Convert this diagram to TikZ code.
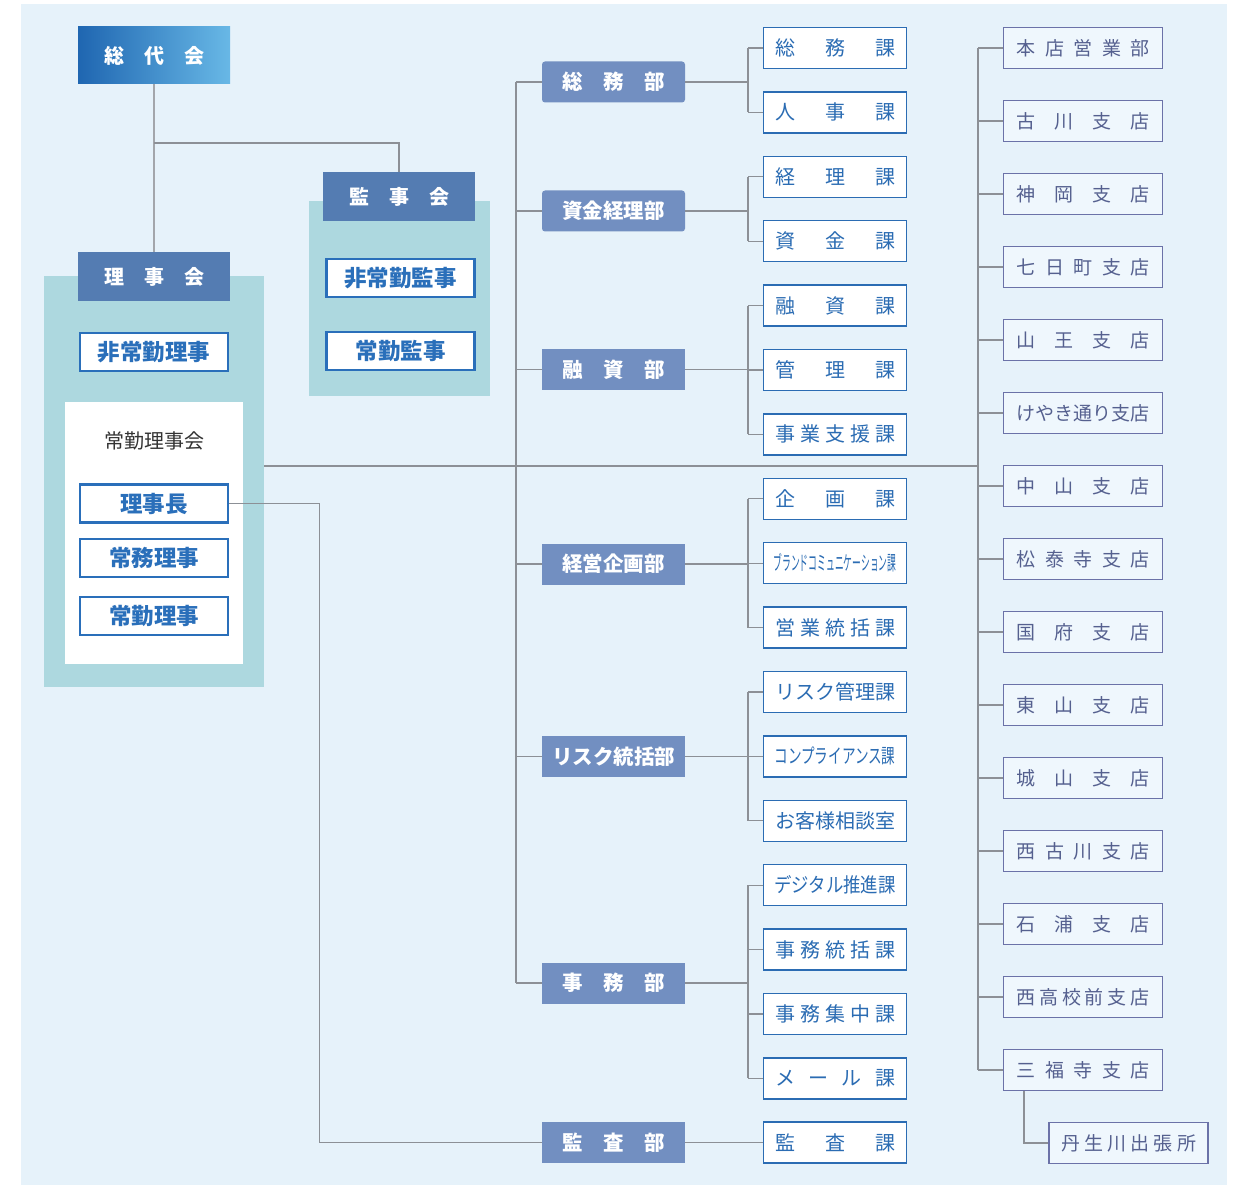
\documentclass[tikz,border=0pt]{standalone}
\usepackage{fontspec}
\setmainfont{Noto Sans CJK JP}
\usepackage{graphicx}
\definecolor{bgblue}{HTML}{E6F2FA}
\definecolor{panelteal}{HTML}{ADD8DF}
\definecolor{boardblue}{HTML}{547CB2}
\definecolor{gradleft}{HTML}{1F66B1}
\definecolor{gradright}{HTML}{68B8E6}
\definecolor{deptblue}{HTML}{728FC1}
\definecolor{sectblue}{HTML}{2B6CB3}
\definecolor{membblue}{HTML}{2A6FBA}
\definecolor{shopline}{HTML}{6B72A8}
\definecolor{shopfill}{HTML}{EFF7FD}
\definecolor{shoptext}{HTML}{55608F}
\definecolor{linegray}{HTML}{8C9096}
\definecolor{darktext}{HTML}{333333}
\newcommand{\spreadtext}[2]{\makebox[#1][s]{#2}}
\tikzset{
  link/.style={draw=linegray, line width=1.1pt},
  board/.style={fill=boardblue, text=white, minimum width=152pt, minimum height=49pt,
    inner sep=0pt, font=\fontsize{20}{20}\selectfont\bfseries},
  panel/.style={fill=panelteal, inner sep=0pt},
  memb/.style={draw=membblue, line width=2.5pt, fill=white, text=membblue, minimum width=148pt,
    minimum height=38pt, inner sep=0pt, font=\fontsize{22.5}{22.5}\selectfont\bfseries},
  dept/.style={fill=deptblue, text=white, minimum width=143pt, minimum height=41pt,
    inner sep=0pt, font=\fontsize{20.5}{20.5}\selectfont\bfseries},
  sect/.style={draw=sectblue, line width=1.3pt, fill=white, text=sectblue, minimum width=143pt,
    minimum height=41pt, inner sep=0pt, font=\fontsize{20}{20}\selectfont},
  shop/.style={draw=shopline, line width=1.3pt, fill=shopfill, text=shoptext, minimum width=159pt,
    minimum height=41pt, inner sep=0pt, font=\fontsize{19}{19}\selectfont}
}
\begin{document}
\begin{tikzpicture}[x=1pt,y=-1pt]
  \useasboundingbox (0,0) rectangle (1235,1185);
  \fill[white] (0,0) rectangle (1235,1185);
  \fill[bgblue] (21,4) rectangle (1227,1185);

  % left side
  \node[panel, minimum width=220pt, minimum height=411pt] (rijipanel) at (154,481.5) {};
  \node[panel, minimum width=181pt, minimum height=195pt] (kanjipanel) at (399.5,298.5) {};
  \node[board, minimum height=57pt, left color=gradleft, right color=gradright]
    (sodai) at (154,55.5) {\spreadtext{100pt}{総\hfill 代\hfill 会}};
  \node[board] (rijikai) at (154,276.5) {\spreadtext{100pt}{理\hfill 事\hfill 会}};
  \node[board] (kanjikai) at (399,196.5) {\spreadtext{100pt}{監\hfill 事\hfill 会}};
  \node[memb] (hijokanji) at (400.5,278) {非常勤監事};
  \node[memb] (jokanji) at (400.5,351) {常勤監事};
  \node[memb] (hijoriji) at (154,352) {非常勤理事};
  \node[fill=white, minimum width=178pt, minimum height=262pt, inner sep=0pt] (jokinbox) at (154,533) {};
  \node[text=darktext, font=\fontsize{20}{20}\selectfont] (jokinkai) at (154,441) {常勤理事会};
  \node[memb] (richo) at (154,503.5) {理事長};
  \node[memb] (jomu) at (154,558) {常務理事};
  \node[memb] (jokin) at (154,616) {常勤理事};

  % departments
  \node[dept, rounded corners=3pt] (somu) at (613.5,82) {\spreadtext{103pt}{総\hfill 務\hfill 部}};
  \node[dept, rounded corners=3pt] (shikin) at (613.5,211) {資金経理部};
  \node[dept] (yushi) at (613.5,369.5) {\spreadtext{103pt}{融\hfill 資\hfill 部}};
  \node[dept] (kikaku) at (613.5,564) {経営企画部};
  \node[dept] (risk) at (613.5,756.5) {リスク統括部};
  \node[dept] (jimu) at (613.5,983) {\spreadtext{103pt}{事\hfill 務\hfill 部}};
  \node[dept] (kansa) at (613.5,1142.5) {\spreadtext{103pt}{監\hfill 査\hfill 部}};

  % sections
  \node[sect] (s1) at (835,48) {\spreadtext{120pt}{総\hfill 務\hfill 課}};
  \node[sect] (s2) at (835,112.4) {\spreadtext{120pt}{人\hfill 事\hfill 課}};
  \node[sect] (s3) at (835,176.8) {\spreadtext{120pt}{経\hfill 理\hfill 課}};
  \node[sect] (s4) at (835,241.2) {\spreadtext{120pt}{資\hfill 金\hfill 課}};
  \node[sect] (s5) at (835,305.6) {\spreadtext{120pt}{融\hfill 資\hfill 課}};
  \node[sect] (s6) at (835,370) {\spreadtext{120pt}{管\hfill 理\hfill 課}};
  \node[sect] (s7) at (835,434.4) {\spreadtext{120pt}{事\hfill 業\hfill 支\hfill 援\hfill 課}};
  \node[sect] (s8) at (835,498.8) {\spreadtext{120pt}{企\hfill 画\hfill 課}};
  \node[sect] (s9) at (835,563.2) {\scalebox{0.44}[1]{ブランドコミュニケーション課}};
  \node[sect] (s10) at (835,627.6) {\spreadtext{120pt}{営\hfill 業\hfill 統\hfill 括\hfill 課}};
  \node[sect] (s11) at (835,692) {リスク管理課};
  \node[sect] (s12) at (835,756.4) {\scalebox{0.68}[1]{コンプライアンス課}};
  \node[sect] (s13) at (835,820.8) {お客様相談室};
  \node[sect] (s14) at (835,885.2) {\scalebox{0.87}[1]{デジタル推進課}};
  \node[sect] (s15) at (835,949.6) {\spreadtext{120pt}{事\hfill 務\hfill 統\hfill 括\hfill 課}};
  \node[sect] (s16) at (835,1014) {\spreadtext{120pt}{事\hfill 務\hfill 集\hfill 中\hfill 課}};
  \node[sect] (s17) at (835,1078.4) {\spreadtext{120pt}{メ\hfill ー\hfill ル\hfill 課}};
  \node[sect] (s18) at (835,1142.5) {\spreadtext{120pt}{監\hfill 査\hfill 課}};

  % branches
  \node[shop] (b1) at (1083,48) {\spreadtext{133pt}{本\hfill 店\hfill 営\hfill 業\hfill 部}};
  \node[shop] (b2) at (1083,121) {\spreadtext{133pt}{古\hfill 川\hfill 支\hfill 店}};
  \node[shop] (b3) at (1083,194) {\spreadtext{133pt}{神\hfill 岡\hfill 支\hfill 店}};
  \node[shop] (b4) at (1083,267) {\spreadtext{133pt}{七\hfill 日\hfill 町\hfill 支\hfill 店}};
  \node[shop] (b5) at (1083,340) {\spreadtext{133pt}{山\hfill 王\hfill 支\hfill 店}};
  \node[shop] (b6) at (1083,413) {けやき通り支店};
  \node[shop] (b7) at (1083,486) {\spreadtext{133pt}{中\hfill 山\hfill 支\hfill 店}};
  \node[shop] (b8) at (1083,559) {\spreadtext{133pt}{松\hfill 泰\hfill 寺\hfill 支\hfill 店}};
  \node[shop] (b9) at (1083,632) {\spreadtext{133pt}{国\hfill 府\hfill 支\hfill 店}};
  \node[shop] (b10) at (1083,705) {\spreadtext{133pt}{東\hfill 山\hfill 支\hfill 店}};
  \node[shop] (b11) at (1083,778) {\spreadtext{133pt}{城\hfill 山\hfill 支\hfill 店}};
  \node[shop] (b12) at (1083,851) {\spreadtext{133pt}{西\hfill 古\hfill 川\hfill 支\hfill 店}};
  \node[shop] (b13) at (1083,924) {\spreadtext{133pt}{石\hfill 浦\hfill 支\hfill 店}};
  \node[shop] (b14) at (1083,997) {\spreadtext{133pt}{西\hfill 高\hfill 校\hfill 前\hfill 支\hfill 店}};
  \node[shop] (b15) at (1083,1070) {\spreadtext{133pt}{三\hfill 福\hfill 寺\hfill 支\hfill 店}};
  \node[shop] (nyu) at (1128.5,1143) {\spreadtext{135pt}{丹\hfill 生\hfill 川\hfill 出\hfill 張\hfill 所}};

  % connectors
  \coordinate (topfork) at (154,143);
  \coordinate (dbus) at (516,0);
  \coordinate (sbus) at (748,0);
  \coordinate (shopbus) at (978,466);
  \draw[link, draw=linegray!80, line width=1.8pt] (sodai.south) -- (rijikai.north);
  \draw[link] (topfork) -| (kanjikai.north);
  \draw[link] (rijipanel.east |- shopbus) -- (shopbus);
  \draw[link] (richo.east) -- ++(90,0) |- (kansa.west);
  \draw[link] (somu.west -| dbus) -- (jimu.west -| dbus);
  \foreach \d in {somu,shikin,yushi,kikaku,risk,jimu}
    \draw[link] (\d.west) -- (\d.west -| dbus);
  \foreach \d/\a/\b in {somu/s1/s2, shikin/s3/s4, yushi/s5/s7, kikaku/s8/s10, risk/s11/s13, jimu/s14/s17} {
    \draw[link] (\d.east) -- (\d.east -| sbus);
    \draw[link] (\a.west -| sbus) -- (\b.west -| sbus);
  }
  \foreach \s in {1,...,17}
    \draw[link] (s\s.west) -- (s\s.west -| sbus);
  \draw[link] (kansa.east) -- (s18.west);
  \draw[link] (b1.west -| shopbus) -- (b15.west -| shopbus);
  \foreach \b in {1,...,15}
    \draw[link] (b\b.west) -- (b\b.west -| shopbus);
  \draw[link] ([xshift=-59pt]b15.south) |- (nyu.west);
\end{tikzpicture}
\end{document}
